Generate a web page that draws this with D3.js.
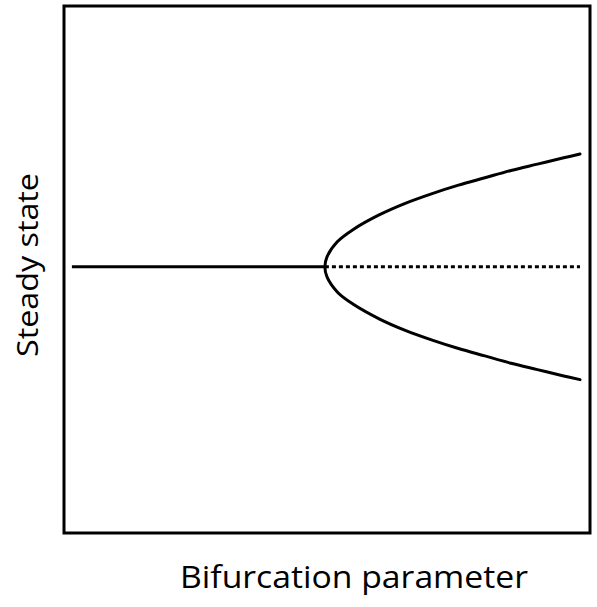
<!DOCTYPE html>
<html>
<head>
<meta charset="utf-8">
<script src="https://cdn.jsdelivr.net/npm/d3@7"></script>
<style>
  body { margin: 0; background: #fff; }
</style>
</head>
<body>
<svg id="chart" width="597" height="607"></svg>
<script>
// parameter values (0-100) and steady state values (0-100)
let stable_mu = [1.5, 49.6];
let stable_x = [50.5, 50.5];

let unstable_mu = [49.6, 98.1];
let unstable_x = [50.5, 50.5];

// upper branch, then back through the fold to the lower branch
let branch_mu = [98.1, 95, 90, 85, 80, 75, 70, 65, 60, 55, 52, 50, 49.6, 50, 52, 55, 60, 65, 70, 75, 80, 85, 90, 95, 98.1];
let branch_x = [71.9, 71.2, 70.0, 68.8, 67.4, 66.0, 64.4, 62.6, 60.4, 57.6, 55.3, 52.4, 50.5, 48.6, 45.7, 43.4, 40.6, 38.4, 36.6, 35.0, 33.6, 32.2, 31.0, 29.8, 29.1];

let x_label = 'Bifurcation parameter';
let y_label = 'Steady state';

const svg = d3.select('#chart');

const x = d3.scaleLinear().domain([0, 100]).range([64, 590]);
const y = d3.scaleLinear().domain([0, 100]).range([533, 6]);

// frame
svg.append('rect')
    .attr('x', x(0))
    .attr('y', y(100))
    .attr('width', x(100) - x(0))
    .attr('height', y(0) - y(100))
    .attr('fill', 'none')
    .attr('stroke', '#000')
    .attr('stroke-width', 3);

const line = d3.line()
    .x(d => x(d[0]))
    .y(d => y(d[1]));

svg.append('path')
    .datum(d3.zip(stable_mu, stable_x))
    .attr('d', line)
    .attr('fill', 'none')
    .attr('stroke', '#000')
    .attr('stroke-width', 3);

svg.append('path')
    .datum(d3.zip(unstable_mu, unstable_x))
    .attr('d', line)
    .attr('fill', 'none')
    .attr('stroke', '#000')
    .attr('stroke-width', 3)
    .attr('stroke-dasharray', '4,3');

svg.append('path')
    .datum(d3.zip(branch_mu, branch_x))
    .attr('d', line.curve(d3.curveCatmullRom))
    .attr('fill', 'none')
    .attr('stroke', '#000')
    .attr('stroke-width', 3)
    .attr('stroke-linecap', 'round');

svg.append('text')
    .attr('x', 180)
    .attr('y', 588)
    .attr('font-family', 'Open Sans, sans-serif')
    .attr('font-size', 31)
    .attr('fill', '#000')
    .attr('textLength', 348)
    .attr('lengthAdjust', 'spacingAndGlyphs')
    .text(x_label);

svg.append('text')
    .attr('transform', 'translate(38,265) rotate(-90)')
    .attr('text-anchor', 'middle')
    .attr('font-family', 'Open Sans, sans-serif')
    .attr('font-size', 29)
    .attr('fill', '#000')
    .attr('textLength', 184)
    .attr('lengthAdjust', 'spacingAndGlyphs')
    .text(y_label);
</script>
</body>
</html>
